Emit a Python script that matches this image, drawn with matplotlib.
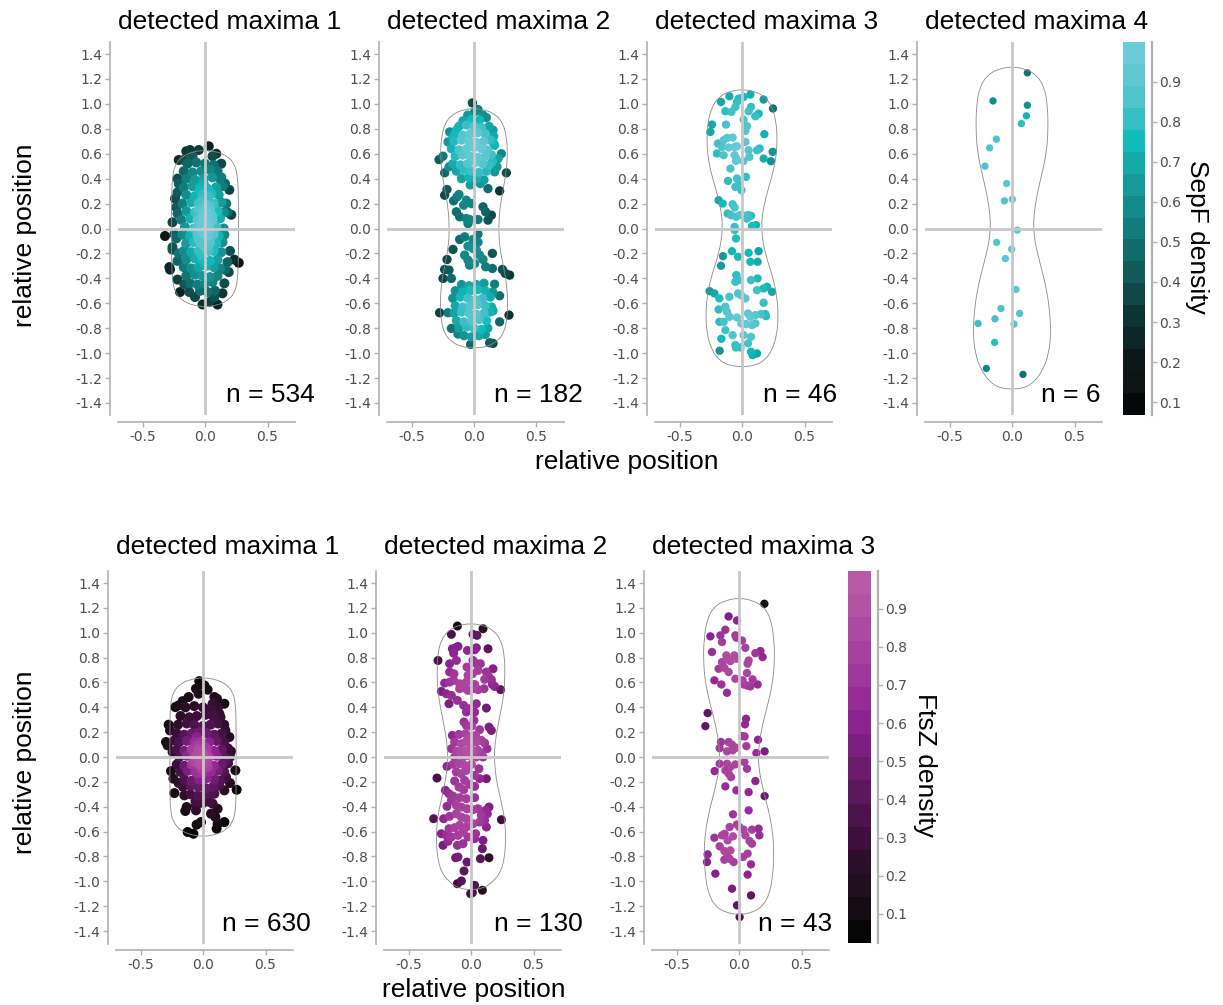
import numpy as np
import matplotlib
matplotlib.use("Agg")
import matplotlib.pyplot as plt
import matplotlib.transforms as mtransforms
from matplotlib.colors import ListedColormap, LinearSegmentedColormap, Normalize
from matplotlib.cm import ScalarMappable
from matplotlib.path import Path
from matplotlib.patches import PathPatch
from matplotlib.ticker import FormatStrFormatter

plt.rcParams["font.family"] = ["DejaVu Sans"]
plt.rcParams["axes.unicode_minus"] = False

W, H = 1223, 1005

# ---------------------------------------------------------------- data
TITLES_TOP = ["detected maxima 1", "detected maxima 2", "detected maxima 3", "detected maxima 4"]
TITLES_BOTTOM = ["detected maxima 1", "detected maxima 2", "detected maxima 3"]
N_TOP = [534, 182, 46, 6]
N_BOTTOM = [630, 130, 43]
Y_TICKS = [-1.4, -1.2, -1.0, -0.8, -0.6, -0.4, -0.2, 0.0, 0.2, 0.4, 0.6, 0.8, 1.0, 1.2, 1.4]
X_TICKS = [-0.5, 0.0, 0.5]
CBAR_TICKS = [0.1, 0.2, 0.3, 0.4, 0.5, 0.6, 0.7, 0.8, 0.9]

# SepF, 1 maximum
T1_PTS = [
    (0.03, 0.66), (-0.05, 0.63), (-0.15, 0.62), (-0.12, 0.63), (0.09, 0.60), (0.13, 0.52), (-0.21, 0.55),
    (0.06, 0.58), (-0.17, 0.55), (-0.10, 0.58), (-0.22, 0.40), (-0.21, 0.36), (-0.22, 0.29), (-0.23, 0.17),
    (-0.22, 0.12), (-0.26, 0.05), (-0.32, -0.06), (-0.245, -0.045), (-0.23, -0.08), (-0.26, -0.15),
    (-0.26, -0.17), (-0.21, -0.20), (-0.22, -0.26), (-0.285, -0.31), (-0.28, -0.33), (-0.22, -0.41),
    (-0.20, -0.51), (-0.165, -0.45), (-0.125, -0.51), (-0.08, -0.55), (-0.02, -0.61), (0.035, -0.59),
    (0.10, -0.61), (0.075, -0.55), (0.14, -0.52), (0.155, -0.44), (0.16, -0.33), (0.235, -0.25),
    (0.27, -0.275), (0.18, -0.27), (0.155, -0.05), (0.21, 0.11), (0.18, 0.13), (0.17, 0.20), (0.195, 0.31),
    (0.16, 0.36), (0.13, 0.41), (0.20, -0.18), (0.19, -0.35), (-0.24, 0.24),
    (-0.14, 0.52), (-0.07, 0.53), (0.0, 0.52), (0.07, 0.51),
    (-0.17, 0.46), (-0.10, 0.45), (-0.03, 0.46), (0.04, 0.47), (0.10, 0.46),
    (-0.15, 0.40), (-0.08, 0.39), (-0.01, 0.40), (0.06, 0.41), (0.12, 0.40),
    (-0.17, 0.33), (-0.10, 0.34), (-0.04, 0.33), (0.02, 0.32), (0.09, 0.33), (0.14, 0.34),
    (-0.15, 0.27), (-0.08, 0.26), (-0.02, 0.27), (0.05, 0.28), (0.11, 0.27),
    (-0.18, 0.20), (-0.11, 0.21), (-0.05, 0.20), (0.01, 0.19), (0.07, 0.20), (0.13, 0.21),
    (-0.15, 0.14), (-0.08, 0.13), (-0.02, 0.14), (0.04, 0.15), (0.10, 0.14), (0.15, 0.13),
    (-0.19, 0.07), (-0.12, 0.08), (-0.06, 0.07), (0.0, 0.06), (0.06, 0.07), (0.12, 0.08),
    (-0.16, 0.01), (-0.09, 0.0), (-0.03, 0.01), (0.03, 0.02), (0.09, 0.01), (0.15, 0.0),
    (-0.18, -0.05), (-0.12, -0.06), (-0.06, -0.05), (0.0, -0.04), (0.06, -0.05), (0.11, -0.06),
    (-0.15, -0.12), (-0.09, -0.11), (-0.03, -0.12), (0.03, -0.13), (0.09, -0.12), (0.14, -0.11),
    (-0.17, -0.18), (-0.11, -0.19), (-0.05, -0.18), (0.01, -0.17), (0.07, -0.18), (0.13, -0.19),
    (-0.15, -0.25), (-0.08, -0.24), (-0.02, -0.25), (0.04, -0.26), (0.10, -0.25),
    (-0.17, -0.31), (-0.11, -0.32), (-0.05, -0.31), (0.01, -0.30), (0.07, -0.31), (0.12, -0.32),
    (-0.15, -0.38), (-0.08, -0.37), (-0.02, -0.38), (0.04, -0.39), (0.10, -0.38),
    (-0.12, -0.44), (-0.06, -0.45), (0.0, -0.44), (0.06, -0.43),
    (-0.04, -0.50), (0.02, -0.51), (0.08, -0.50),
    (-0.04, 0.30), (0.03, 0.26), (-0.03, 0.22), (0.04, 0.18), (-0.05, 0.15), (0.02, 0.12), (-0.02, 0.09),
    (0.05, 0.06), (-0.04, 0.04), (0.01, 0.02), (0.03, -0.01), (-0.03, -0.03), (0.02, -0.06), (-0.05, -0.09),
    (0.04, -0.11), (-0.01, -0.14), (0.03, -0.18), (-0.03, -0.21), (0.01, 0.16), (-0.01, 0.36), (0.0, -0.28),
    (0.06, 0.10), (-0.07, 0.0), (0.07, -0.05),
]

# SepF, 2 maxima
T2_PTS = [
    (-0.013, 1.008), (-0.05, 0.91), (0.005, 0.936), (0.032, 0.955), (0.072, 0.91), (0.099, 0.89),
    (0.045, 0.87), (-0.02, 0.874), (-0.088, 0.864), (-0.195, 0.775), (-0.168, 0.735), (-0.208, 0.695),
    (-0.141, 0.789), (0.152, 0.789), (0.157, 0.74), (0.152, 0.695), (0.165, 0.668), (0.219, 0.60),
    (0.192, 0.56), (0.147, 0.535), (0.184, 0.495), (0.259, 0.447), (0.165, 0.455), (0.205, 0.302),
    (0.112, 0.32), (-0.28, 0.553), (-0.248, 0.58), (-0.235, 0.447), (-0.2, 0.495),
    (-0.235, 0.267), (-0.216, 0.313), (-0.163, 0.222), (-0.136, 0.254), (-0.12, 0.273), (-0.083, 0.187),
    (-0.061, 0.227), (-0.021, 0.2), (-0.141, 0.134), (-0.115, 0.094), (-0.061, 0.08), (-0.048, 0.04),
    (-0.035, 0.072), (0.032, 0.072), (0.072, 0.174), (0.093, 0.134), (0.139, 0.107), (0.112, 0.067),
    (-0.115, -0.088), (-0.075, -0.067), (-0.008, -0.088), (0.032, -0.045), (0.032, -0.11), (-0.048, -0.142),
    (-0.008, -0.16), (0.019, -0.174), (-0.168, -0.168), (0.147, -0.2), (0.045, -0.214), (0.072, -0.249),
    (-0.075, -0.214), (-0.048, -0.254), (-0.216, -0.249), (-0.035, -0.294), (0.005, -0.281), (0.093, -0.307),
    (0.147, -0.321), (-0.235, -0.329), (-0.2, -0.334), (0.227, -0.329), (0.251, -0.361), (0.285, -0.374),
    (-0.248, -0.401), (-0.181, -0.401),
    (0.165, -0.447), (0.205, -0.54), (0.152, -0.66), (0.205, -0.749), (0.28, -0.695), (-0.275, -0.676),
    (-0.208, -0.676), (-0.181, -0.802), (-0.128, -0.847), (-0.027, -0.93), (0.032, -0.856), (0.125, -0.917),
    (0.152, -0.922),
    (-0.12, 0.82), (-0.06, 0.83), (0.0, 0.82), (0.06, 0.81), (0.12, 0.82),
    (-0.15, 0.76), (-0.09, 0.75), (-0.03, 0.76), (0.03, 0.77), (0.09, 0.76),
    (-0.16, 0.70), (-0.10, 0.71), (-0.04, 0.70), (0.02, 0.69), (0.08, 0.70), (0.13, 0.71),
    (-0.18, 0.64), (-0.12, 0.63), (-0.06, 0.64), (0.0, 0.65), (0.06, 0.64), (0.11, 0.63),
    (-0.15, 0.58), (-0.09, 0.59), (-0.03, 0.58), (0.03, 0.57), (0.09, 0.58), (0.14, 0.59),
    (-0.17, 0.52), (-0.11, 0.51), (-0.05, 0.52), (0.01, 0.53), (0.07, 0.52), (0.12, 0.51),
    (-0.14, 0.46), (-0.08, 0.47), (-0.02, 0.46), (0.04, 0.45), (0.10, 0.46),
    (-0.10, 0.40), (-0.04, 0.41), (0.02, 0.40), (0.08, 0.39),
    (-0.03, 0.35), (0.05, 0.36),
    (-0.10, -0.45), (-0.04, -0.46), (0.02, -0.45), (0.08, -0.44),
    (-0.15, -0.50), (-0.09, -0.51), (-0.03, -0.50), (0.03, -0.49), (0.09, -0.50), (0.15, -0.51),
    (-0.17, -0.56), (-0.11, -0.55), (-0.05, -0.56), (0.01, -0.57), (0.07, -0.56), (0.13, -0.55),
    (-0.15, -0.62), (-0.09, -0.63), (-0.03, -0.62), (0.03, -0.61), (0.09, -0.62), (0.14, -0.63),
    (-0.16, -0.68), (-0.10, -0.67), (-0.04, -0.68), (0.02, -0.69), (0.08, -0.68), (0.13, -0.67),
    (-0.14, -0.74), (-0.08, -0.75), (-0.02, -0.74), (0.04, -0.73), (0.10, -0.74),
    (-0.12, -0.80), (-0.06, -0.79), (0.0, -0.80), (0.06, -0.81), (0.11, -0.80),
    (-0.08, -0.86), (-0.02, -0.87), (0.04, -0.86), (0.09, -0.85),
]

# SepF, 3 maxima
T3_PTS = [
    (-0.168, 1.016), (-0.101, 1.061), (-0.04, 1.016), (-0.027, 1.043), (0.013, 1.056), (0.067, 1.075),
    (0.072, 0.976), (0.173, 1.035), (0.248, 0.963), (-0.133, 0.941), (-0.085, 0.936), (-0.053, 0.976),
    (0.053, 0.941), (0.133, 0.922), (0.107, 0.901), (0.013, 0.874), (-0.128, 0.834), (-0.24, 0.834),
    (-0.253, 0.775), (0.04, 0.821), (0.027, 0.783), (0.179, 0.757), (-0.12, 0.727), (-0.075, 0.73),
    (-0.147, 0.709), (-0.192, 0.682), (0.027, 0.695), (-0.107, 0.65), (-0.059, 0.655), (-0.04, 0.66),
    (-0.16, 0.655), (0.053, 0.628), (0.141, 0.642), (0.12, 0.628), (0.245, 0.615), (-0.2, 0.602),
    (-0.147, 0.588), (-0.059, 0.588), (-0.045, 0.561), (0.059, 0.575), (0.173, 0.561), (0.232, 0.54),
    (-0.048, 0.543), (0.011, 0.54), (-0.093, 0.481), (0.032, 0.414), (-0.04, 0.401), (-0.112, 0.382),
    (-0.027, 0.353), (-0.053, 0.334), (-0.005, 0.307),
    (-0.187, 0.227), (-0.155, 0.2), (-0.075, 0.195), (-0.059, 0.168), (-0.115, 0.12), (-0.088, 0.107),
    (-0.048, 0.094), (-0.019, 0.107), (0.019, 0.102), (0.048, 0.107), (0.072, 0.102), (0.04, 0.08),
    (0.08, 0.019), (0.112, 0.027), (-0.059, 0.013), (-0.059, -0.013), (-0.048, -0.08),
    (-0.152, -0.222), (-0.08, -0.182), (-0.032, -0.227), (0.053, -0.195), (0.133, -0.182), (0.067, -0.267),
    (0.125, -0.267), (-0.168, -0.299), (-0.045, -0.374), (-0.053, -0.428), (-0.027, -0.414), (0.072, -0.414),
    (0.125, -0.401), (-0.259, -0.503), (-0.221, -0.521), (-0.181, -0.561), (-0.101, -0.548), (-0.032, -0.521),
    (-0.008, -0.535), (0.027, -0.561), (0.12, -0.495), (0.173, -0.481), (0.2, -0.468), (0.24, -0.508),
    (0.173, -0.596), (-0.187, -0.65), (-0.133, -0.628), (-0.12, -0.668), (-0.101, -0.709), (-0.04, -0.714),
    (0.048, -0.682), (0.067, -0.709), (0.107, -0.695), (0.152, -0.687), (0.187, -0.687), (0.192, -0.703),
    (-0.181, -0.749), (-0.147, -0.749), (-0.133, -0.816), (-0.005, -0.762), (0.032, -0.767), (0.08, -0.775),
    (0.107, -0.762), (-0.075, -0.856), (0.013, -0.856), (0.072, -0.869), (-0.165, -0.885), (-0.053, -0.936),
    (-0.048, -0.955), (-0.013, -0.955), (0.048, -0.922), (-0.179, -0.981), (0.072, -0.989), (0.085, -1.016),
    (0.12, -1.003),
]

T4_PTS = [
    (0.123, 1.249), (-0.152, 1.024), (0.123, 0.989), (0.115, 0.904), (0.075, 0.842), (-0.125, 0.717),
    (-0.179, 0.647), (-0.216, 0.50), (-0.043, 0.361), (0.003, 0.235), (-0.061, 0.222), (0.043, -0.013),
    (-0.123, -0.112), (-0.003, -0.166), (-0.053, -0.241), (0.032, -0.489), (-0.088, -0.642), (0.061, -0.682),
    (-0.136, -0.725), (-0.272, -0.762), (0.016, -0.767), (-0.139, -0.914), (-0.205, -1.123), (0.088, -1.171),
]
T4_DENS = [0.50, 0.60, 0.62, 0.74, 0.80, 0.88, 0.88, 0.88, 0.92, 0.92, 0.90, 0.92,
           0.90, 0.92, 0.92, 0.92, 0.88, 0.88, 0.86, 0.84, 0.90, 0.80, 0.58, 0.50]

# FtsZ, 1 maximum
B1_PTS = [
    (-0.03, 0.611), (0.011, 0.576), (0.037, 0.542), (-0.056, 0.55), (-0.035, 0.509), (-0.115, 0.483),
    (-0.163, 0.45), (-0.221, 0.402), (-0.195, 0.416), (0.091, 0.483), (0.112, 0.469), (0.171, 0.429),
    (0.077, 0.429), (0.131, 0.349), (-0.275, 0.26), (-0.264, 0.214), (-0.296, 0.121), (-0.283, 0.094),
    (-0.229, 0.134), (-0.243, 0.04), (-0.256, -0.113), (-0.237, -0.174), (-0.195, -0.209), (-0.229, -0.29),
    (-0.149, -0.308), (-0.131, -0.402), (-0.142, -0.434), (-0.056, -0.394), (-0.056, -0.429), (-0.051, -0.544),
    (-0.016, -0.523), (-0.123, -0.603), (-0.077, -0.617), (0.211, 0.161), (0.179, 0.214), (0.224, 0.046),
    (0.216, 0.0), (0.179, -0.027), (0.259, -0.107), (0.184, -0.161), (0.216, -0.209), (0.269, -0.263),
    (0.171, -0.268), (0.091, -0.295), (0.077, -0.375), (0.117, -0.416), (0.064, -0.456), (0.099, -0.483),
    (0.171, -0.523), (0.117, -0.536), (0.109, -0.576),
    (-0.14, 0.40), (-0.07, 0.41), (0.0, 0.40), (0.06, 0.39), (0.12, 0.40),
    (-0.18, 0.33), (-0.11, 0.32), (-0.05, 0.33), (0.02, 0.34), (0.08, 0.33), (0.14, 0.32),
    (-0.20, 0.26), (-0.13, 0.27), (-0.07, 0.26), (0.0, 0.25), (0.06, 0.26), (0.12, 0.27), (0.17, 0.26),
    (-0.21, 0.19), (-0.15, 0.18), (-0.09, 0.19), (-0.03, 0.20), (0.03, 0.19), (0.09, 0.18), (0.15, 0.19),
    (-0.19, 0.12), (-0.13, 0.13), (-0.07, 0.12), (-0.01, 0.11), (0.05, 0.12), (0.11, 0.13), (0.17, 0.12),
    (-0.21, 0.06), (-0.15, 0.05), (-0.09, 0.06), (-0.03, 0.07), (0.03, 0.06), (0.09, 0.05), (0.15, 0.06),
    (0.20, 0.07),
    (-0.19, 0.0), (-0.13, 0.01), (-0.07, 0.0), (-0.01, -0.01), (0.05, 0.0), (0.11, 0.01), (0.17, 0.0),
    (-0.21, -0.06), (-0.15, -0.07), (-0.09, -0.06), (-0.03, -0.05), (0.03, -0.06), (0.09, -0.07),
    (0.15, -0.06), (0.20, -0.05),
    (-0.18, -0.12), (-0.12, -0.11), (-0.06, -0.12), (0.0, -0.13), (0.06, -0.12), (0.12, -0.11), (0.17, -0.12),
    (-0.15, -0.18), (-0.09, -0.19), (-0.03, -0.18), (0.03, -0.17), (0.09, -0.18), (0.14, -0.19),
    (-0.16, -0.24), (-0.10, -0.23), (-0.04, -0.24), (0.02, -0.25), (0.08, -0.24), (0.13, -0.23),
    (-0.10, -0.30), (-0.04, -0.31), (0.02, -0.30), (0.07, -0.29),
    (-0.06, -0.36), (0.0, -0.37), (0.05, -0.36),
    (-0.04, 0.05), (-0.02, -0.02), (-0.06, 0.0), (0.0, 0.03), (-0.03, -0.06), (-0.05, 0.09), (0.01, -0.05),
    (-0.07, -0.04), (-0.02, 0.12), (0.02, 0.08), (-0.08, 0.06), (-0.01, -0.10), (-0.04, -0.13), (0.03, 0.0),
    (-0.05, 0.16), (0.04, -0.08),
]

# FtsZ, 2 maxima
B2_PTS = [
    (-0.109, 1.054), (-0.157, 0.987), (0.016, 0.987), (0.048, 0.979), (0.096, 1.032),
    (-0.149, 0.871), (-0.125, 0.879), (-0.104, 0.89), (-0.139, 0.836), (-0.029, 0.858), (0.029, 0.863),
    (0.043, 0.879), (0.136, 0.871), (-0.264, 0.777), (-0.117, 0.777), (-0.171, 0.751), (0.016, 0.777),
    (0.043, 0.751), (0.075, 0.751), (-0.032, 0.724), (0.176, 0.71), (0.056, 0.697), (0.123, 0.684),
    (-0.171, 0.684), (-0.136, 0.67), (-0.024, 0.657), (0.011, 0.67), (0.144, 0.643), (0.109, 0.625),
    (0.163, 0.622), (-0.171, 0.603), (-0.139, 0.617), (-0.091, 0.59), (-0.064, 0.584), (-0.037, 0.603),
    (0.029, 0.584), (0.171, 0.584), (0.189, 0.568), (-0.211, 0.595), (-0.237, 0.528), (-0.197, 0.509),
    (-0.157, 0.496), (-0.091, 0.55), (-0.051, 0.555), (-0.024, 0.536), (0.016, 0.55), (0.056, 0.542),
    (0.104, 0.55), (0.237, 0.542), (-0.176, 0.429), (-0.109, 0.456), (-0.059, 0.416), (-0.011, 0.389),
    (0.043, 0.429), (0.123, 0.394), (-0.037, 0.362), (0.029, 0.362),
    (-0.056, 0.282), (-0.037, 0.255), (0.024, 0.295), (0.003, 0.247), (0.144, 0.241), (0.163, 0.214),
    (0.069, 0.22), (-0.149, 0.174), (-0.096, 0.182), (-0.043, 0.188), (-0.011, 0.161), (0.037, 0.174),
    (0.083, 0.134), (0.109, 0.113), (-0.131, 0.121), (-0.077, 0.107), (-0.043, 0.121), (-0.003, 0.102),
    (0.043, 0.121), (0.128, 0.067), (-0.157, 0.067), (-0.117, 0.048), (-0.083, 0.04), (-0.037, 0.048),
    (0.011, 0.048), (0.056, 0.054), (0.083, 0.032), (-0.131, 0.0), (-0.064, 0.0), (-0.024, 0.013),
    (0.043, 0.0), (0.096, 0.0), (-0.192, -0.075), (-0.144, -0.059), (-0.096, -0.054), (-0.051, -0.067),
    (0.003, -0.059), (0.064, -0.094), (-0.117, -0.121), (-0.077, -0.134), (-0.037, -0.107), (0.029, -0.147),
    (0.069, -0.174), (0.123, -0.174), (-0.272, -0.169), (-0.131, -0.193), (-0.051, -0.188), (-0.011, -0.22),
    (0.029, -0.236), (-0.096, -0.241), (-0.059, -0.263), (-0.205, -0.268), (-0.176, -0.295), (-0.144, -0.314),
    (0.029, -0.327), (-0.091, -0.327), (-0.037, -0.335),
    (-0.192, -0.397), (-0.157, -0.349), (-0.117, -0.389), (-0.077, -0.402), (-0.032, -0.416), (0.016, -0.424),
    (0.056, -0.416), (0.144, -0.402), (0.117, -0.429), (0.083, -0.469), (0.131, -0.456), (-0.299, -0.496),
    (-0.219, -0.496), (-0.171, -0.477), (-0.117, -0.456), (-0.077, -0.483), (-0.037, -0.496), (0.016, -0.536),
    (0.069, -0.523), (0.109, -0.509), (0.123, -0.563), (0.243, -0.504), (-0.176, -0.576), (-0.131, -0.568),
    (-0.091, -0.549), (-0.037, -0.563), (-0.237, -0.617), (-0.197, -0.63), (-0.157, -0.643), (-0.104, -0.63),
    (-0.064, -0.603), (-0.024, -0.643), (0.037, -0.617), (0.029, -0.657), (0.096, -0.67), (-0.224, -0.71),
    (-0.184, -0.678), (-0.109, -0.71), (-0.064, -0.697), (0.091, -0.737), (-0.104, -0.804), (-0.123, -0.81),
    (-0.032, -0.845), (0.075, -0.818), (0.144, -0.81), (-0.056, -0.917), (-0.109, -1.019), (-0.077, -0.997),
    (0.029, -1.032), (0.011, -1.091), (-0.003, -1.099), (0.091, -1.072),
]

# FtsZ, 3 maxima
B3_PTS = [
    (0.203, 1.233), (-0.083, 1.131), (-0.016, 1.099), (-0.229, 0.971), (-0.149, 0.979), (-0.109, 1.024),
    (-0.029, 0.979), (-0.021, 0.96), (0.024, 0.938), (-0.136, 0.925), (-0.216, 0.845), (0.051, 0.879),
    (-0.101, 0.818), (-0.037, 0.818), (-0.021, 0.791), (-0.091, 0.783), (-0.136, 0.764), (-0.069, 0.772),
    (0.077, 0.777), (0.069, 0.751), (0.131, 0.836), (0.171, 0.853), (0.189, 0.804), (-0.163, 0.71),
    (-0.117, 0.718), (-0.083, 0.684), (0.064, 0.676), (-0.197, 0.617), (-0.141, 0.584), (-0.096, 0.517),
    (-0.029, 0.63), (0.029, 0.617), (0.037, 0.584), (0.064, 0.576), (0.091, 0.568), (0.109, 0.625),
    (0.149, 0.584),
    (-0.251, 0.354), (-0.269, 0.249), (0.056, 0.308), (0.048, 0.263), (0.152, 0.139), (0.024, 0.169),
    (0.045, 0.166), (0.059, 0.088), (-0.144, 0.121), (-0.155, 0.072), (-0.083, 0.121), (-0.056, 0.099),
    (-0.096, 0.046), (-0.051, 0.054), (-0.021, 0.075), (0.139, 0.032), (0.205, 0.046), (-0.155, -0.054),
    (-0.195, -0.113), (-0.096, -0.054), (-0.069, -0.08), (-0.029, -0.059), (0.043, -0.04), (0.064, -0.094),
    (-0.109, -0.107), (-0.083, -0.134), (-0.064, -0.161), (0.131, -0.193), (-0.109, -0.236), (-0.021, -0.268),
    (0.077, -0.282), (0.205, -0.314),
    (0.077, -0.429), (-0.048, -0.461), (-0.075, -0.563), (-0.016, -0.542), (0.003, -0.563), (0.037, -0.584),
    (0.104, -0.584), (0.157, -0.576), (0.163, -0.63), (-0.197, -0.649), (-0.136, -0.63), (-0.115, -0.617),
    (-0.091, -0.67), (-0.048, -0.638), (0.051, -0.63), (0.085, -0.676), (0.104, -0.697), (-0.155, -0.718),
    (-0.117, -0.756), (-0.096, -0.777), (-0.069, -0.751), (0.069, -0.777), (0.032, -0.804), (-0.043, -0.845),
    (-0.075, -0.818), (-0.117, -0.826), (-0.251, -0.783), (-0.256, -0.845), (0.096, -0.863), (-0.189, -0.938),
    (0.069, -0.946), (-0.056, -1.059), (0.096, -1.113), (-0.016, -1.193), (0.005, -1.287),
]

# cell outlines: (y, half width) from pole to pole
T1_OUTLINE = [(0.63, 0.0), (0.615, 0.10), (0.58, 0.18), (0.52, 0.235), (0.42, 0.262), (0.2, 0.268),
              (0.0, 0.268), (-0.2, 0.268), (-0.42, 0.262), (-0.52, 0.235), (-0.58, 0.18), (-0.615, 0.10),
              (-0.63, 0.0)]
T2_OUTLINE = [(0.965, 0.0), (0.95, 0.10), (0.91, 0.18), (0.84, 0.235), (0.72, 0.262), (0.6, 0.268),
              (0.45, 0.258), (0.3, 0.23), (0.15, 0.205), (0.0, 0.197), (-0.15, 0.205), (-0.3, 0.235),
              (-0.45, 0.262), (-0.6, 0.27), (-0.72, 0.265), (-0.84, 0.24), (-0.91, 0.18), (-0.95, 0.10),
              (-0.96, 0.0)]
T3_OUTLINE = [(1.117, 0.0), (1.10, 0.10), (1.06, 0.18), (0.98, 0.24), (0.85, 0.275), (0.7, 0.282),
              (0.55, 0.27), (0.4, 0.235), (0.25, 0.19), (0.1, 0.16), (0.0, 0.158), (-0.1, 0.165),
              (-0.25, 0.2), (-0.4, 0.25), (-0.55, 0.28), (-0.7, 0.29), (-0.85, 0.28), (-0.98, 0.24),
              (-1.06, 0.18), (-1.10, 0.10), (-1.11, 0.0)]
T4_OUTLINE = [(1.30, 0.0), (1.28, 0.11), (1.23, 0.2), (1.13, 0.26), (1.0, 0.283), (0.8, 0.29),
              (0.6, 0.275), (0.42, 0.235), (0.25, 0.195), (0.1, 0.175), (0.0, 0.173), (-0.12, 0.185),
              (-0.3, 0.23), (-0.5, 0.28), (-0.7, 0.305), (-0.85, 0.31), (-1.0, 0.295), (-1.13, 0.25),
              (-1.23, 0.18), (-1.28, 0.10), (-1.29, 0.0)]
B1_OUTLINE = [(0.64, 0.0), (0.625, 0.10), (0.59, 0.18), (0.53, 0.235), (0.43, 0.262), (0.2, 0.265),
              (0.0, 0.265), (-0.2, 0.265), (-0.43, 0.262), (-0.53, 0.235), (-0.59, 0.18), (-0.625, 0.10),
              (-0.64, 0.0)]
B2_OUTLINE = [(1.075, 0.0), (1.06, 0.10), (1.02, 0.18), (0.94, 0.24), (0.82, 0.268), (0.65, 0.272),
              (0.5, 0.262), (0.35, 0.235), (0.2, 0.205), (0.07, 0.188), (-0.05, 0.188), (-0.2, 0.205),
              (-0.35, 0.24), (-0.5, 0.27), (-0.65, 0.278), (-0.8, 0.27), (-0.92, 0.24), (-1.0, 0.18),
              (-1.055, 0.10), (-1.07, 0.0)]
B3_OUTLINE = [(1.28, 0.0), (1.26, 0.11), (1.21, 0.2), (1.11, 0.255), (0.95, 0.28), (0.78, 0.285),
              (0.6, 0.27), (0.42, 0.23), (0.25, 0.185), (0.1, 0.16), (0.0, 0.155), (-0.1, 0.16),
              (-0.25, 0.19), (-0.42, 0.235), (-0.6, 0.27), (-0.78, 0.28), (-0.95, 0.27), (-1.1, 0.245),
              (-1.2, 0.19), (-1.25, 0.11), (-1.27, 0.0)]

SEPF_COLORS = ["#050808", "#0e1313", "#0b1818", "#0a2626", "#0d3434", "#0f4848", "#125a5a", "#106b6b",
               "#127c7c", "#148b8b", "#179a9a", "#15aaaa", "#10bbbb", "#37bec4", "#4fc4cb", "#5fc8d3",
               "#6accd9"]
FTSZ_COLORS = ["#060606", "#140c12", "#210e1e", "#2d0e2a", "#3e0e3c", "#4b134a", "#5a175b", "#6b1c6b",
               "#7d1f7e", "#8d2390", "#972c95", "#a0379a", "#a8409e", "#ad49a0", "#b452a3", "#b85aa5"]

# ---------------------------------------------------------------- helpers
SPINE_GRAY = "#b0b0b0"
LABEL_FONT = ["Liberation Sans", "DejaVu Sans"]


def kde_colors(pts, bw, lo, hi, gamma=1.0):
    x, y = pts[:, 0], pts[:, 1]
    d = np.exp(-0.5 * (((x[:, None] - x) / bw[0]) ** 2 + ((y[:, None] - y) / bw[1]) ** 2)).sum(axis=1)
    t = (d - d.min()) / (d.max() - d.min())
    return lo + (hi - lo) * t ** gamma


def outline_patch(profile):
    right = [(w, y) for y, w in profile]
    left = [(-w, y) for y, w in reversed(profile[1:-1])]
    poly = right + left
    n = len(poly)
    mids = [((poly[i][0] + poly[(i + 1) % n][0]) / 2, (poly[i][1] + poly[(i + 1) % n][1]) / 2)
            for i in range(n)]
    verts = [mids[-1]]
    codes = [Path.MOVETO]
    for i in range(n):
        verts += [poly[i], mids[i]]
        codes += [Path.CURVE3, Path.CURVE3]
    return PathPatch(Path(verts, codes), facecolor="none", edgecolor="#8a8a8a", lw=0.6, zorder=2.5)


def px_rect(left, top, width, height):
    return [left / W, 1 - (top + height) / H, width / W, height / H]


def draw_panel(fig, rect, pts, dens, outline, cmap, norm, size, title, n, n_x, title_dy):
    ax = fig.add_axes(rect)
    pts = np.asarray(pts)
    order = np.argsort(dens)
    ax.scatter(pts[order, 0], pts[order, 1], c=np.asarray(dens)[order], cmap=cmap, norm=norm,
               s=size, edgecolors="none", zorder=2)
    ax.add_patch(outline_patch(outline))
    ax.axvline(0, color="#c8c8c8", lw=2, zorder=3)
    ax.axhline(0, color="#c8c8c8", lw=2, zorder=3)
    ax.set_xlim(-0.696, 0.72)
    ax.set_ylim(-1.5, 1.5)
    ax.set_xticks(X_TICKS)
    ax.set_yticks(Y_TICKS)
    ax.xaxis.set_major_formatter(FormatStrFormatter("%.1f"))
    ax.yaxis.set_major_formatter(FormatStrFormatter("%.1f"))
    for side in ["top", "right"]:
        ax.spines[side].set_visible(False)
    ax.spines["left"].set_position(("outward", 6))
    ax.spines["bottom"].set_position(("outward", 5))
    for side in ["left", "bottom"]:
        ax.spines[side].set_color(SPINE_GRAY)
        ax.spines[side].set_linewidth(1.2)
    ax.tick_params(length=3.5, width=1, color=SPINE_GRAY, labelcolor="#4d4d4d", labelsize=10, pad=2)
    ax.patch.set_alpha(0)
    trans = mtransforms.blended_transform_factory(ax.transData, ax.transAxes)
    ax.text(0.2, 1 + title_dy, title, transform=trans, ha="center", va="center", fontsize=19,
            family=LABEL_FONT)
    ax.text(n_x, -1.34, f"n = {n}", ha="left", va="center", fontsize=19, family=LABEL_FONT, clip_on=False)
    return ax


def draw_cbar(fig, rect, colors, vmin, label, label_xy):
    cax = fig.add_axes(rect)
    sm = ScalarMappable(norm=Normalize(vmin, 1.0), cmap=ListedColormap(colors))
    cb = fig.colorbar(sm, cax=cax, ticks=CBAR_TICKS)
    cb.outline.set_visible(False)
    cax.spines["right"].set_visible(True)
    cax.spines["right"].set_position(("outward", 5))
    cax.spines["right"].set_color(SPINE_GRAY)
    cax.spines["right"].set_linewidth(1.6)
    cax.yaxis.set_major_formatter(FormatStrFormatter("%.1f"))
    cax.tick_params(length=3.5, width=1, color=SPINE_GRAY, labelcolor="#4d4d4d", labelsize=10, pad=2)
    fig.text(label_xy[0] / W, 1 - label_xy[1] / H, label, rotation=270, ha="center", va="center",
             fontsize=19, family=LABEL_FONT)


# ---------------------------------------------------------------- figure
fig = plt.figure(figsize=(W / 100, H / 100), dpi=100)

sepf_cmap = LinearSegmentedColormap.from_list("sepf", SEPF_COLORS)
ftsz_cmap = LinearSegmentedColormap.from_list("ftsz", FTSZ_COLORS)
sepf_norm = Normalize(0.067, 1.0)
ftsz_norm = Normalize(0.022, 1.0)

top_sets = [
    (T1_PTS, kde_colors(np.asarray(T1_PTS), (0.08, 0.13), 0.12, 1.0, 0.75), T1_OUTLINE, 52, 0.17),
    (T2_PTS, kde_colors(np.asarray(T2_PTS), (0.10, 0.10), 0.30, 0.98), T2_OUTLINE, 45, 0.16),
    (T3_PTS, kde_colors(np.asarray(T3_PTS), (0.12, 0.15), 0.50, 0.96, 0.6), T3_OUTLINE, 36, 0.17),
    (T4_PTS, T4_DENS, T4_OUTLINE, 28, 0.23),
]
top_x0 = [205, 474, 742, 1012]
for i, (pts, dens, outl, size, n_x) in enumerate(top_sets):
    rect = px_rect(top_x0[i] - 87, 41.6, 177, 373.8)
    draw_panel(fig, rect, pts, dens, outl, sepf_cmap, sepf_norm, size, TITLES_TOP[i], N_TOP[i], n_x, 0.052)

bottom_sets = [
    (B1_PTS, kde_colors(np.asarray(B1_PTS), (0.08, 0.10), 0.03, 0.95, 1.3), B1_OUTLINE, 52, 0.15),
    (B2_PTS, kde_colors(np.asarray(B2_PTS), (0.10, 0.10), 0.12, 0.92, 0.5), B2_OUTLINE, 42, 0.18),
    (B3_PTS, kde_colors(np.asarray(B3_PTS), (0.12, 0.15), 0.10, 0.90, 0.45), B3_OUTLINE, 36, 0.15),
]
bottom_x0 = [203, 471, 739]
for i, (pts, dens, outl, size, n_x) in enumerate(bottom_sets):
    rect = px_rect(bottom_x0[i] - 87, 570.6, 177, 372.9)
    draw_panel(fig, rect, pts, dens, outl, ftsz_cmap, ftsz_norm, size, TITLES_BOTTOM[i], N_BOTTOM[i], n_x,
               0.063)

draw_cbar(fig, px_rect(1123, 41.6, 22, 373.8), SEPF_COLORS, 0.067, "SepF density", (1197, 237))
draw_cbar(fig, px_rect(848, 570.6, 23, 372.9), FTSZ_COLORS, 0.022, "FtsZ density", (925, 765))

fig.text(25 / W, 1 - 235 / H, "relative position", rotation=90, ha="center", va="center", fontsize=19,
         family=LABEL_FONT)
fig.text(25 / W, 1 - 762 / H, "relative position", rotation=90, ha="center", va="center", fontsize=19,
         family=LABEL_FONT)
fig.text(627 / W, 1 - 462 / H, "relative position", ha="center", va="center", fontsize=19, family=LABEL_FONT)
fig.text(474 / W, 1 - 990 / H, "relative position", ha="center", va="center", fontsize=19, family=LABEL_FONT)

fig.savefig("out.png", dpi=100)
